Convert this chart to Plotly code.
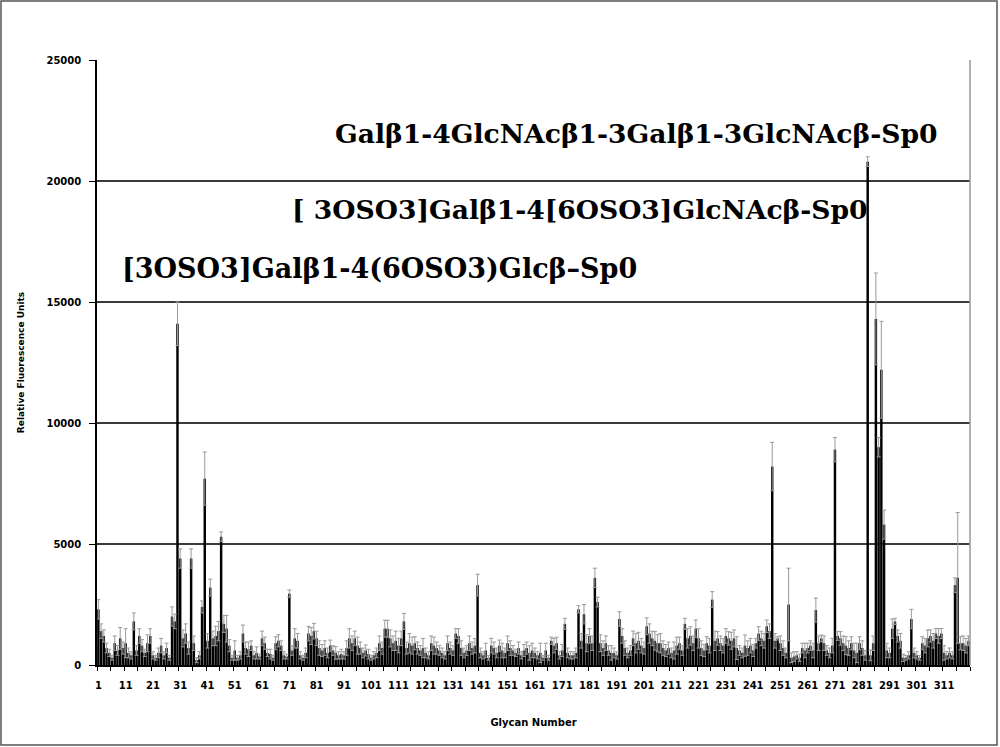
import plotly.graph_objects as go

# glycan numbers 1..320
glycans = list(range(1, 321))

# mean relative fluorescence units (10 per row)
rfu = [
    2300, 1400, 1200, 700, 500, 300, 900, 600, 1100, 700,
    900, 500, 400, 1800, 600, 1200, 800, 500, 900, 1200,
    400, 300, 500, 800, 400, 700, 300, 2000, 1800, 14100,
    4400, 1100, 1300, 700, 4400, 900, 200, 400, 2400, 7700,
    1000, 3200, 1100, 1200, 1400, 5300, 1700, 1500, 800, 300,
    600, 300, 400, 1300, 700, 650, 800, 400, 500, 350,
    1100, 900, 500, 450, 300, 900, 1000, 800, 400, 350,
    2950, 600, 1100, 1000, 400, 300, 500, 1300, 1200, 1400,
    1100, 700, 600, 700, 500, 800, 600, 500, 400, 450,
    400, 700, 1100, 900, 1100, 800, 700, 500, 600, 450,
    300, 400, 500, 900, 700, 1500, 1500, 1100, 900, 1000,
    800, 1100, 1800, 700, 900, 800, 900, 700, 600, 700,
    500, 400, 900, 800, 700, 600, 500, 400, 900, 700,
    600, 1300, 1200, 700, 500, 600, 900, 700, 800, 3300,
    500, 400, 600, 300, 800, 700, 500, 800, 600, 500,
    900, 700, 600, 500, 700, 400, 600, 700, 500, 600,
    500, 400, 500, 300, 600, 300, 1000, 800, 900, 400,
    600, 1700, 500, 400, 400, 500, 2300, 1000, 2100, 900,
    1200, 900, 3600, 2600, 900, 700, 900, 600, 500, 500,
    400, 1900, 1200, 700, 500, 600, 1100, 900, 1000, 800,
    700, 1600, 1300, 1100, 1000, 900, 900, 700, 600, 700,
    500, 600, 800, 900, 600, 1700, 1100, 1200, 900, 1500,
    1100, 700, 600, 900, 800, 2700, 1000, 1100, 900, 800,
    1200, 1100, 1000, 1100, 700, 600, 500, 800, 700, 800,
    600, 900, 1300, 1100, 1000, 1600, 1400, 8200, 1000, 1100,
    900, 700, 500, 2500, 300, 350, 400, 300, 700, 600,
    700, 800, 600, 2270, 900, 1100, 900, 600, 500, 800,
    8900, 1200, 1100, 900, 800, 700, 900, 600, 500, 900,
    700, 400, 20800, 400, 900, 14300, 9000, 12200, 5800, 600,
    500, 1500, 1800, 1200, 1000, 300, 300, 400, 1900, 500,
    400, 300, 900, 800, 1100, 1200, 1000, 1300, 1200, 1300,
    500, 400, 500, 400, 3300, 3600, 900, 900, 800, 1000,
]

# standard deviations (error bars)
rfu_sd = [
    400, 300, 250, 200, 150, 100, 300, 200, 450, 250,
    600, 200, 150, 350, 200, 300, 250, 150, 350, 300,
    150, 100, 200, 300, 150, 200, 100, 400, 300, 900,
    400, 350, 400, 250, 400, 300, 100, 150, 250, 1100,
    300, 350, 300, 400, 400, 200, 350, 550, 250, 100,
    400, 100, 150, 350, 250, 300, 200, 150, 250, 100,
    300, 250, 150, 200, 100, 270, 250, 200, 150, 100,
    150, 200, 400, 300, 150, 100, 200, 300, 350, 320,
    300, 300, 250, 300, 200, 230, 200, 260, 150, 200,
    150, 300, 400, 300, 300, 350, 250, 200, 230, 200,
    100, 150, 200, 300, 250, 350, 350, 350, 300, 400,
    300, 300, 330, 250, 400, 350, 270, 250, 200, 400,
    200, 150, 300, 350, 250, 200, 200, 150, 300, 250,
    200, 200, 300, 300, 200, 200, 300, 250, 300, 450,
    200, 150, 300, 100, 300, 250, 200, 230, 300, 200,
    300, 300, 200, 150, 250, 150, 250, 250, 300, 300,
    200, 150, 400, 100, 300, 100, 150, 300, 250, 150,
    250, 230, 200, 150, 150, 200, 150, 300, 400, 350,
    300, 300, 400, 200, 350, 300, 300, 200, 300, 200,
    150, 300, 300, 300, 200, 200, 300, 400, 350, 300,
    250, 350, 400, 300, 380, 350, 400, 300, 250, 250,
    200, 350, 350, 250, 200, 230, 400, 380, 300, 360,
    400, 300, 250, 270, 300, 330, 400, 280, 300, 300,
    300, 280, 350, 350, 470, 200, 200, 440, 300, 300,
    250, 200, 280, 300, 300, 260, 300, 1000, 300, 70,
    300, 300, 200, 1500, 200, 200, 150, 150, 200, 300,
    200, 200, 300, 500, 300, 140, 300, 200, 200, 300,
    500, 180, 280, 300, 370, 300, 270, 300, 400, 270,
    300, 200, 200, 220, 300, 1900, 400, 2000, 600, 300,
    200, 400, 130, 250, 300, 150, 100, 150, 400, 200,
    150, 100, 270, 300, 350, 250, 300, 210, 300, 210,
    300, 150, 200, 150, 300, 2700, 270, 300, 300, 200,
]

x_labels = list(range(1, 321, 10))
y_ticks = [0, 5000, 10000, 15000, 20000, 25000]

peak_names = [
    "Galβ1-4GlcNAcβ1-3Galβ1-3GlcNAcβ-Sp0",
    "[ 3OSO3]Galβ1-4[6OSO3]GlcNAcβ-Sp0",
    "[3OSO3]Galβ1-4(6OSO3)Glcβ–Sp0",
]

fig = go.Figure(go.Bar(
    x=glycans, y=rfu,
    marker=dict(color="black", line=dict(width=0)),
    error_y=dict(type="data", array=rfu_sd, color="#9a9a9a", thickness=1, width=2),
))

# plot area in pixels: x 97..970, y 60..665
W, H, L, T, R, B = 1000, 747, 97, 60, 970, 665
def px(x):
    return (x - L) / (R - L)
def py(y):
    return (B - y) / (B - T)

label_pos = [(333, 133, 26.6), (290, 209, 26.6), (120, 268, 27)]
annotations = []
for name, (ax_, ay_, fs) in zip(peak_names, label_pos):
    annotations.append(dict(
        text="<b>" + name + "</b>", x=px(ax_), y=py(ay_), xref="paper", yref="paper",
        xanchor="left", yanchor="middle", showarrow=False,
        font=dict(family="DejaVu Serif", size=fs, color="black"),
    ))

tick_font = dict(family="DejaVu Sans", size=10, color="black")

fig.update_layout(
    width=W, height=H,
    margin=dict(l=L, r=W - R, t=T, b=H - B),
    paper_bgcolor="white", plot_bgcolor="white",
    showlegend=False, bargap=0.1,
    annotations=annotations,
    xaxis=dict(
        range=[0.5, 320.5], tickmode="array", tickvals=x_labels,
        ticktext=["<b>%d</b>" % v for v in x_labels], ticks="",
        tickfont=tick_font, ticklabelstandoff=10, showgrid=False, zeroline=False,
        showline=True, linecolor="black", linewidth=1.5,
        minor=dict(tick0=0.5, dtick=5, ticks="outside", ticklen=4, tickcolor="black", showgrid=False),
        title=dict(text="<b>Glycan Number</b>", font=dict(family="DejaVu Sans", size=10, color="black"), standoff=29),
    ),
    yaxis=dict(
        range=[0, 25000], tickmode="array", tickvals=y_ticks,
        ticktext=["<b>%d</b>" % v for v in y_ticks],
        ticks="outside", ticklen=6, tickcolor="black", tickfont=tick_font, ticklabelstandoff=6,
        showgrid=True, gridcolor="#3a3a3a", gridwidth=1.5, zeroline=False,
        showline=True, linecolor="black", linewidth=1.5,
        title=dict(text="<b>Relative Fluorescence Units</b>", font=dict(family="DejaVu Sans", size=9, color="black"), standoff=20),
    ),
    shapes=[
        dict(type="line", xref="paper", yref="paper", x0=1, x1=1, y0=0, y1=1,
             line=dict(color="#9a9a9a", width=1.5)),
        dict(type="rect", xref="paper", yref="paper", x0=px(1), x1=px(997), y0=py(745), y1=py(1),
             line=dict(color="#555555", width=1.5)),
    ],
)

fig.write_html("out.html", config={"displayModeBar": False},
               post_script="document.body.style.margin='0';")
